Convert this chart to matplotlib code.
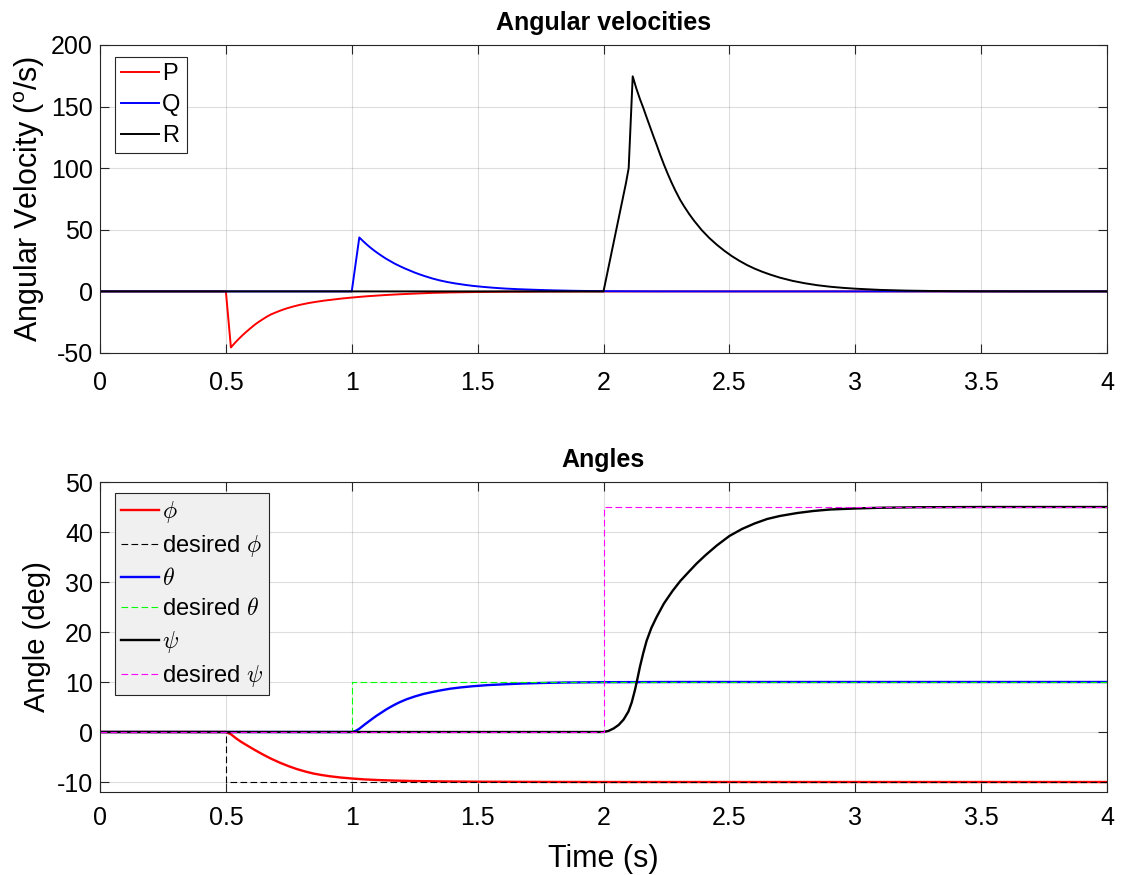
import matplotlib
matplotlib.use("Agg")
import matplotlib.pyplot as plt

# === data ===
# angular velocities (deg/s)
t_p = [0, 0.5, 0.52, 0.535, 0.55, 0.565, 0.58, 0.596, 0.615, 0.63, 0.645, 0.662, 0.68, 0.7, 0.72,
       0.74, 0.765, 0.794, 0.83, 0.86, 0.89, 0.927, 0.96, 1.0, 1.06, 1.13, 1.192, 1.26, 1.32,
       1.39, 1.5, 1.6, 1.75, 2.0, 2.3, 4.0]
p = [0, 0, -45.5, -42.0, -38.8, -35.8, -33.0, -30.2, -27.0, -24.8, -22.8, -20.6, -18.6, -16.9, -15.3,
     -13.9, -12.4, -10.9, -9.4, -8.4, -7.5, -6.6, -5.8, -5.0, -3.95, -3.0, -2.3, -1.7, -1.2,
     -0.85, -0.5, -0.3, -0.12, -0.04, 0, 0]

t_q = [0, 1.0, 1.03, 1.045, 1.06, 1.075, 1.09, 1.105, 1.12, 1.135, 1.152, 1.17, 1.19, 1.21, 1.23,
       1.25, 1.27, 1.29, 1.32, 1.35, 1.38, 1.41, 1.45, 1.48, 1.52, 1.56, 1.61, 1.66, 1.7, 1.75,
       1.8, 1.88, 1.95, 2.0, 2.2, 2.5, 4.0]
q = [0, 0, 43.8, 40.8, 38.0, 35.4, 33.0, 30.8, 28.7, 26.7, 24.7, 22.6, 20.6, 18.7, 17.0,
     15.3, 13.8, 12.4, 10.5, 8.9, 7.6, 6.5, 5.3, 4.5, 3.7, 3.0, 2.3, 1.8, 1.5, 1.15,
     0.85, 0.5, 0.28, 0.18, 0.05, 0, 0]

t_r = [0, 2.0, 2.089, 2.10, 2.116, 2.13, 2.145, 2.158, 2.17, 2.185, 2.2, 2.211, 2.225, 2.24, 2.255,
       2.27, 2.285, 2.304, 2.32, 2.34, 2.36, 2.39, 2.42, 2.45, 2.48, 2.51, 2.54, 2.57, 2.6, 2.63,
       2.66, 2.7, 2.75, 2.8, 2.85, 2.9, 2.95, 3.0, 3.1, 3.2, 3.3, 3.4, 3.5, 3.7, 4.0]
r = [0, 0, 87.7, 100, 174.6, 165, 156, 149, 142, 133.5, 125, 119, 111, 103, 95.5,
     88.5, 82, 74.5, 69.1, 62.9, 57.3, 49.8, 43.4, 37.9, 33.0, 28.6, 24.8, 21.4, 18.5, 16.0,
     13.8, 11.2, 8.6, 6.6, 5.0, 3.8, 2.9, 2.2, 1.2, 0.65, 0.35, 0.18, 0.08, 0.02, 0]

# angles (deg)
t_phi = [0, 0.5, 0.52, 0.54, 0.56, 0.583, 0.615, 0.649, 0.68, 0.715, 0.75, 0.781, 0.815, 0.847,
         0.88, 0.913, 0.955, 1.0, 1.05, 1.1, 1.17, 1.24, 1.35, 1.5, 1.75, 2.0, 4.0]
phi = [0, 0, -0.45, -1.25, -1.95, -2.65, -3.6, -4.55, -5.35, -6.15, -6.85, -7.4, -7.9, -8.3,
       -8.6, -8.85, -9.1, -9.3, -9.48, -9.6, -9.72, -9.8, -9.88, -9.94, -9.98, -10, -10]

t_theta = [0, 1.0, 1.015, 1.03, 1.05, 1.07, 1.086, 1.1, 1.12, 1.135, 1.152, 1.17, 1.19, 1.218, 1.25,
           1.284, 1.32, 1.35, 1.39, 1.43, 1.48, 1.54, 1.61, 1.68, 1.75, 1.85, 2.0, 2.3, 4.0]
theta = [0, 0, 0.2, 0.65, 1.45, 2.2, 2.8, 3.3, 3.95, 4.45, 4.95, 5.45, 5.95, 6.55, 7.1,
         7.6, 8.0, 8.3, 8.65, 8.9, 9.15, 9.38, 9.55, 9.7, 9.8, 9.9, 9.96, 10, 10]

t_psi = [0, 2.0, 2.02, 2.04, 2.06, 2.08, 2.099, 2.112, 2.125, 2.135, 2.145, 2.158, 2.171, 2.19,
         2.211, 2.24, 2.274, 2.305, 2.34, 2.37, 2.406, 2.45, 2.5, 2.55, 2.6, 2.65, 2.7, 2.77,
         2.833, 2.9, 3.0, 3.1, 3.25, 3.5, 4.0]
psi = [0, 0, 0.22, 0.7, 1.4, 2.5, 4.1, 5.9, 8.4, 10.7, 13.1, 15.8, 18.2, 20.8,
       23.0, 25.7, 28.2, 30.2, 32.1, 33.7, 35.4, 37.3, 39.2, 40.6, 41.7, 42.6, 43.2, 43.8,
       44.2, 44.5, 44.7, 44.85, 44.95, 45.0, 45.0]

# step commands
t_des_phi = [0, 0.5, 0.5, 4]
des_phi = [0, 0, -10, -10]
t_des_theta = [0, 1.0, 1.0, 4]
des_theta = [0, 0, 10, 10]
t_des_psi = [0, 2.0, 2.0, 4]
des_psi = [0, 0, 45, 45]

x_ticks = [0, 0.5, 1, 1.5, 2, 2.5, 3, 3.5, 4]
vel_ticks = [-50, 0, 50, 100, 150, 200]
ang_ticks = [-10, 0, 10, 20, 30, 40, 50]

# === MATLAB-ish look ===
plt.rcParams["font.family"] = ["Liberation Sans", "DejaVu Sans"]
plt.rcParams["mathtext.fontset"] = "cm"
AX_COLOR = (0.15, 0.15, 0.15)
DASH = (0, (6, 3))
TICK_FS = 18


def style_axes(ax, yticks, ylim, xpad):
    ax.set_xlim(0, 4)
    ax.set_ylim(*ylim)
    ax.set_xticks(x_ticks)
    ax.set_xticklabels([f"{v:g}" for v in x_ticks])
    ax.set_yticks(yticks)
    ax.set_yticklabels([f"{v:g}" for v in yticks])
    ax.grid(True, color=AX_COLOR, alpha=0.15, linewidth=0.8)
    ax.tick_params(direction="in", length=6.5, width=0.8, top=True, right=True,
                   colors=AX_COLOR, labelcolor="black", labelsize=TICK_FS)
    ax.tick_params(axis="x", pad=xpad)
    ax.tick_params(axis="y", pad=5)
    for s in ax.spines.values():
        s.set_color(AX_COLOR)
        s.set_linewidth(0.8)


fig = plt.figure(figsize=(11.22, 8.75), dpi=100)
ax1 = fig.add_axes([100 / 1122, 1 - 353 / 875, 1007 / 1122, 308 / 875])
ax2 = fig.add_axes([100 / 1122, 1 - 792 / 875, 1007 / 1122, 310 / 875])

# --- top: angular velocities ---
ax1.plot(t_p, p, color="red", lw=1.4, label="P")
ax1.plot(t_q, q, color="blue", lw=1.4, label="Q")
ax1.plot(t_r, r, color="black", lw=1.4, label="R")
style_axes(ax1, vel_ticks, (-50, 200), xpad=13)
ax1.set_title("Angular velocities", fontsize=18, fontweight="bold", pad=11)
ax1.set_ylabel(r"Angular Velocity ($\mathregular{^o}$/s)", fontsize=22, labelpad=3)
leg1 = ax1.legend(loc="upper left", bbox_to_anchor=(15 / 1007, 1 - 12 / 308), borderaxespad=0,
                  fancybox=False, edgecolor=AX_COLOR, framealpha=1, handlelength=1.6,
                  handletextpad=0.15, borderpad=0.25, labelspacing=0.38, fontsize=17)
leg1.get_frame().set_linewidth(0.8)

# --- bottom: angles ---
ax2.plot(t_phi, phi, color="red", lw=1.7, label=r"$\phi$")
ax2.plot(t_des_phi, des_phi, color="black", lw=0.8, ls=DASH, label=r"desired $\phi$")
ax2.plot(t_theta, theta, color="blue", lw=1.7, label=r"$\theta$")
ax2.plot(t_des_theta, des_theta, color="#00ff00", lw=0.8, ls=DASH, label=r"desired $\theta$")
ax2.plot(t_psi, psi, color="black", lw=1.7, label=r"$\psi$")
ax2.plot(t_des_psi, des_psi, color="magenta", lw=0.8, ls=DASH, label=r"desired $\psi$")
style_axes(ax2, ang_ticks, (-12, 50), xpad=10)
ax2.set_title("Angles", fontsize=18, fontweight="bold", pad=11)
ax2.set_ylabel("Angle (deg)", fontsize=21, labelpad=4)
ax2.set_xlabel("Time (s)", fontsize=22, labelpad=10)
leg2 = ax2.legend(loc="upper left", bbox_to_anchor=(15 / 1007, 1 - 11 / 310), borderaxespad=0,
                  fancybox=False, edgecolor=AX_COLOR, facecolor=(0.94, 0.94, 0.94),
                  framealpha=1, handlelength=1.6, handletextpad=0.15, borderpad=0.25,
                  labelspacing=0.36, fontsize=17)
leg2.get_frame().set_linewidth(0.8)

fig.savefig("out.png", dpi=100)
